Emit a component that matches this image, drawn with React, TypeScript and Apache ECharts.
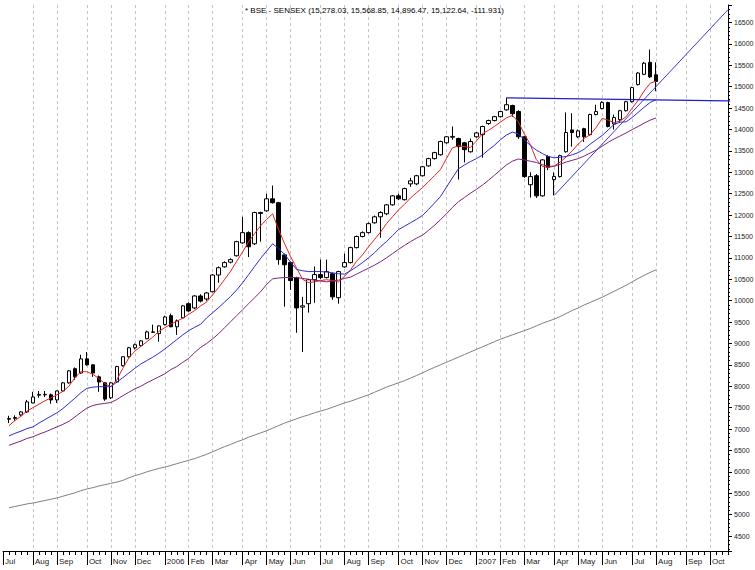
import React, { useEffect, useRef } from 'react';
import * as echarts from 'echarts';

// ---- categories: weekly (Friday) dates from Jul 1 2005 to Oct 26 2007 ----
const START_UTC = Date.UTC(2005, 6, 1);
const WEEK_COUNT = 122;
const MONTH_NAMES = ['Jan', 'Feb', 'Mar', 'Apr', 'May', 'Jun', 'Jul', 'Aug', 'Sep', 'Oct', 'Nov', 'Dec'];

const weeks: string[] = Array.from({ length: WEEK_COUNT }, (_, i) =>
  new Date(START_UTC + i * 7 * 86400000).toISOString().slice(0, 10)
);

// tick labels: first week of each month (January shows the year)
const tickLabels: string[] = weeks.map((w, i) => {
  const m = Number(w.slice(5, 7));
  const prevM = i === 0 ? -1 : Number(weeks[i - 1].slice(5, 7));
  if (m === prevM) return '';
  return m === 1 ? w.slice(0, 4) : MONTH_NAMES[m - 1];
});

const TITLE = '* BSE - SENSEX (15,278.03, 15,568.85, 14,896.47, 15,122.64, -111.931)';

// ---- weekly OHLC (index 0 = Jul 1 2005, not drawn) ----
const opens = [null, 7230, 7250, 7330, 7400, 7610, 7790, 7810, 7800, 7680,
  7890, 8080, 8410, 8310, 8640, 8500, 8220, 8080, 7730, 8100,
  8480, 8690, 8900, 8950, 9110, 9260, 9230, 9440, 9650, 9390,
  9600, 9930, 9830, 10110, 10040, 10210, 10600, 10790, 10900, 11050,
  11350, 11590, 11330, 12060, 12100, 12380, 12290, 11070, 10890, 10540,
  9850, 9930, 10490, 10610, 10540, 10630, 10070, 10790, 10890, 11240,
  11500, 11590, 11820, 11960, 12030, 12240, 12450, 12360, 12730, 12730,
  12920, 13150, 13320, 13410, 13690, 13820, 13790, 13690, 13480, 13830,
  13880, 14140, 14210, 14300, 14460, 14560, 14420, 13830, 12710, 12920,
  12450, 13370, 12830, 12900, 13480, 13990, 13830, 14020, 13880, 14350,
  14490, 14630, 14130, 14230, 14440, 14650, 15050, 15290, 15570, 15278.03];

const closes = [null, 7245, 7270, 7400, 7635, 7750, 7810, 7800, 7680, 7890,
  8080, 8360, 8220, 8640, 8500, 8310, 8100, 7700, 8080, 8460,
  8690, 8900, 8970, 9060, 9270, 9270, 9410, 9620, 9390, 9530,
  9880, 9760, 10110, 9990, 10180, 10600, 10770, 10890, 10960, 11380,
  11590, 11260, 12060, 12040, 12380, 12290, 10960, 10840, 10470, 9830,
  9880, 10490, 10610, 10540, 10680, 10090, 10680, 10890, 11240, 11500,
  11590, 11800, 11960, 12060, 12240, 12450, 12380, 12620, 12800, 12920,
  13130, 13320, 13460, 13720, 13830, 13840, 13600, 13530, 13720, 13920,
  14070, 14210, 14300, 14420, 14580, 14370, 13830, 12900, 12900, 12450,
  13290, 13110, 12900, 13390, 13930, 13930, 13970, 13830, 14350, 14420,
  14630, 14070, 14280, 14440, 14650, 14980, 15320, 15550, 15230, 15122.64];

const highs = [null, 7310, 7320, 7420, 7680, 7870, 7890, 7890, 7830, 7900,
  8100, 8380, 8440, 8735, 8800, 8520, 8250, 8100, 8100, 8480,
  8700, 8920, 9000, 9080, 9300, 9440, 9420, 9650, 9700, 9560,
  9900, 9960, 10130, 10150, 10200, 10620, 10800, 10920, 10990, 11400,
  11960, 11620, 12080, 12080, 12500, 12690, 12310, 11100, 10920, 10560,
  10090, 10510, 10800, 10960, 10960, 10660, 10700, 11100, 11260, 11520,
  11620, 11830, 11990, 12090, 12260, 12470, 12500, 12640, 12870, 12940,
  13150, 13340, 13480, 13740, 13850, 14070, 13810, 13710, 13790, 13940,
  14090, 14230, 14320, 14440, 14740, 14580, 14450, 13850, 13000, 12960,
  13310, 13400, 13000, 13410, 14400, 14380, 14000, 14040, 14370, 14580,
  14660, 14650, 14350, 14460, 14670, 15000, 15340, 15580, 15870, 15568.85];

const lows = [null, 7140, 7190, 7310, 7380, 7600, 7730, 7750, 7590, 7610,
  7870, 8060, 8150, 8290, 8480, 8220, 7870, 7660, 7700, 8080,
  8460, 8670, 8860, 8930, 9100, 9250, 9040, 9420, 9380, 9200,
  9580, 9740, 9800, 9960, 10000, 10190, 10420, 10770, 10870, 11030,
  11330, 11020, 11300, 11380, 12080, 12270, 10840, 9860, 10250, 9250,
  8800, 9720, 9950, 10500, 10520, 10020, 9930, 10770, 10870, 11220,
  11480, 11570, 11800, 11470, 12000, 12220, 12350, 12340, 12660, 12700,
  12900, 13130, 13300, 13390, 13670, 13760, 12830, 13230, 13460, 13810,
  13340, 14110, 14190, 14280, 14440, 14300, 13780, 12870, 12410, 12400,
  12430, 13050, 12460, 12880, 13460, 13600, 13800, 13710, 13860, 14330,
  14470, 14050, 14000, 14180, 14420, 14630, 15030, 15270, 15200, 14896.47];

// ---- moving averages ----
const maRed = [null, 7080, 7200, 7300, 7420, 7500, 7580, 7660, 7730, 7800,
  7880, 8000, 8200, 8340, 8340, 8280, 8180, 8060, 7990, 8150,
  8420, 8660, 8820, 8930, 9040, 9150, 9280, 9370, 9450, 9520,
  9590, 9680, 9770, 9880, 9970, 10140, 10310, 10500, 10690, 10920,
  11140, 11380, 11570, 11750, 11900, 12030, 11660, 11330, 11030, 10760,
  10500, 10420, 10440, 10470, 10490, 10470, 10440, 10570, 10720, 10920,
  11070, 11260, 11430, 11600, 11800, 11960, 12120, 12250, 12400, 12520,
  12640, 12780, 12920, 13060, 13320, 13570, 13620, 13600, 13580, 13730,
  13900, 13980, 14070, 14170, 14270, 14330, 14180, 13900, 13650, 13300,
  13140, 13110, 13150, 13240, 13360, 13500, 13660, 13790, 13880, 14050,
  14260, 14220, 14160, 14200, 14300, 14500, 14680, 14900, 15080, 15130];

const maBlue = [null, 6840, 6900, 6950, 7010, 7050, 7140, 7220, 7300, 7380,
  7480, 7600, 7720, 7850, 7950, 7980, 7990, 7990, 7990, 8100,
  8200, 8310, 8420, 8520, 8600, 8680, 8770, 8870, 8980, 9090,
  9200, 9300, 9380, 9450, 9600, 9720, 9840, 9970, 10100, 10250,
  10420, 10610, 10800, 10990, 11160, 11330, 11220, 11080, 10900, 10730,
  10700, 10680, 10680, 10680, 10670, 10650, 10630, 10620, 10700, 10790,
  10890, 11000, 11120, 11260, 11380, 11520, 11660, 11740, 11820, 11900,
  11990, 12130, 12280, 12430, 12650, 12870, 13080, 13170, 13250, 13320,
  13400, 13520, 13630, 13760, 13870, 13940, 13900, 13760, 13630, 13520,
  13440, 13370, 13340, 13350, 13370, 13410, 13460, 13540, 13660, 13760,
  13860, 13990, 14120, 14170, 14180, 14280, 14400, 14520, 14630, 14700];

const maPurple = [null, 6620, 6670, 6720, 6780, 6820, 6880, 6930, 6990, 7050,
  7110, 7180, 7280, 7390, 7490, 7550, 7580, 7600, 7620, 7690,
  7780, 7860, 7940, 8000, 8080, 8150, 8220, 8290, 8390, 8460,
  8560, 8650, 8790, 8910, 9000, 9110, 9230, 9370, 9510, 9650,
  9790, 9930, 10070, 10210, 10380, 10510, 10530, 10540, 10540, 10540,
  10520, 10500, 10480, 10460, 10440, 10460, 10480, 10520, 10550, 10620,
  10690, 10760, 10830, 10910, 11000, 11100, 11200, 11290, 11380, 11460,
  11530, 11640, 11760, 11890, 12030, 12180, 12310, 12410, 12510, 12600,
  12700, 12810, 12930, 13050, 13170, 13260, 13310, 13290, 13260, 13230,
  13180, 13140, 13140, 13190, 13240, 13280, 13320, 13380, 13450, 13520,
  13610, 13700, 13780, 13850, 13920, 14000, 14070, 14150, 14220, 14270];

const maGray = [null, 5160, 5190, 5220, 5250, 5270, 5300, 5330, 5360, 5390,
  5430, 5470, 5510, 5560, 5600, 5630, 5670, 5700, 5730, 5760,
  5800, 5860, 5910, 5950, 6000, 6040, 6080, 6110, 6150, 6190,
  6230, 6270, 6310, 6360, 6410, 6470, 6530, 6590, 6640, 6700,
  6750, 6810, 6860, 6910, 6960, 7020, 7080, 7140, 7190, 7240,
  7290, 7330, 7380, 7420, 7460, 7510, 7560, 7610, 7650, 7700,
  7750, 7800, 7860, 7920, 7980, 8030, 8080, 8130, 8190, 8250,
  8310, 8380, 8440, 8500, 8560, 8620, 8680, 8740, 8800, 8860,
  8920, 8980, 9040, 9100, 9150, 9200, 9250, 9300, 9350, 9410,
  9470, 9520, 9570, 9630, 9700, 9770, 9830, 9900, 9960, 10020,
  10080, 10150, 10220, 10290, 10360, 10440, 10520, 10590, 10660, 10720];

// ---- trend lines: [week index, value] ----
const risingTrend = [[92, 12460], [121, 16800]];
const resistanceLine = [[84, 14740], [121, 14670], [126, 14660]];

const FONT = "'Liberation Sans', Arial, sans-serif";

export default function App() {
  const ref = useRef<HTMLDivElement>(null);

  useEffect(() => {
    if (!ref.current) return;
    const chart = echarts.init(ref.current, null, { renderer: 'svg' });

    const candles = opens.map((o, i) =>
      o == null ? '-' : [o, closes[i], lows[i], highs[i]]
    );
    const isMonthStart = (i: number) => tickLabels[i] !== '';
    const maLine = (name: string, data: (number | null)[], color: string) => ({
      name,
      type: 'line',
      data: data.map((v) => (v == null ? '-' : v)),
      symbol: 'none',
      showSymbol: false,
      lineStyle: { color, width: 1 },
      itemStyle: { color },
      z: 3,
      silent: true,
    });

    chart.setOption({
      animation: false,
      backgroundColor: '#ffffff',
      title: {
        text: TITLE,
        left: 245,
        top: 6,
        padding: 0,
        textStyle: { fontSize: 8, fontWeight: 'normal', color: '#000', fontFamily: FONT },
      },
      grid: {
        left: 3,
        right: 27,
        top: 5,
        bottom: 19,
        containLabel: false,
        outerBoundsMode: 'none',
      },
      xAxis: [
        {
          type: 'category',
          data: weeks,
          boundaryGap: false,
          position: 'bottom',
          axisLine: { show: true, lineStyle: { color: '#000', width: 1 } },
          axisTick: { show: true, interval: 0, length: 4, lineStyle: { color: '#000' } },
          axisLabel: {
            show: true,
            interval: (i: number) => isMonthStart(i),
            formatter: (_v: string, i: number) => tickLabels[i],
            align: 'left',
            padding: [0, 0, 0, 2],
            margin: 6,
            fontSize: 8,
            color: '#222',
            fontFamily: FONT,
          },
          splitLine: {
            show: true,
            interval: (i: number) => i > 0 && isMonthStart(i),
            lineStyle: { color: '#c4c4c4', width: 1, type: [3, 3] },
          },
        },
        {
          type: 'category',
          data: weeks,
          boundaryGap: false,
          position: 'bottom',
          axisLine: { show: false },
          axisTick: {
            show: true,
            interval: (i: number) => isMonthStart(i),
            length: 14,
            lineStyle: { color: '#000' },
          },
          axisLabel: { show: false },
          splitLine: { show: false },
        },
      ],
      yAxis: {
        type: 'value',
        position: 'right',
        min: 4150,
        max: 16910,
        splitNumber: 25,
        scale: true,
        axisLine: { show: true, lineStyle: { color: '#000', width: 1 } },
        axisTick: { show: true, length: 4, lineStyle: { color: '#000' } },
        minorTick: { show: true, splitNumber: 5, length: 2, lineStyle: { color: '#000' } },
        axisLabel: {
          formatter: (v: number) => (v % 500 === 0 ? String(v) : ''),
          fontSize: 7,
          color: '#222',
          margin: 6,
          fontFamily: FONT,
        },
        splitLine: { show: false },
      },
      series: [
        {
          name: 'SENSEX',
          type: 'candlestick',
          data: candles,
          barWidth: 4,
          itemStyle: {
            color: '#ffffff',
            color0: '#000000',
            borderColor: '#000000',
            borderColor0: '#000000',
            borderColorDoji: '#000000',
            borderWidth: 1,
          },
          z: 2,
          silent: true,
        },
        maLine('MA short', maRed, '#e3231d'),
        maLine('MA medium', maBlue, '#2b2bd6'),
        maLine('MA long', maPurple, '#7d2577'),
        maLine('MA very long', maGray, '#7f7f7f'),
        {
          name: 'Rising trend',
          type: 'line',
          data: risingTrend,
          symbol: 'none',
          lineStyle: { color: '#3a3ad0', width: 1 },
          z: 4,
          silent: true,
        },
        {
          name: 'Resistance',
          type: 'line',
          data: resistanceLine,
          symbol: 'none',
          clip: false,
          lineStyle: { color: '#1f1fcc', width: 1.3 },
          z: 4,
          silent: true,
        },
      ],
    });

    return () => chart.dispose();
  }, []);

  return (
    <div
      ref={ref}
      style={{ position: 'fixed', left: 0, top: 0, width: 755, height: 570, background: '#fff' }}
    />
  );
}
